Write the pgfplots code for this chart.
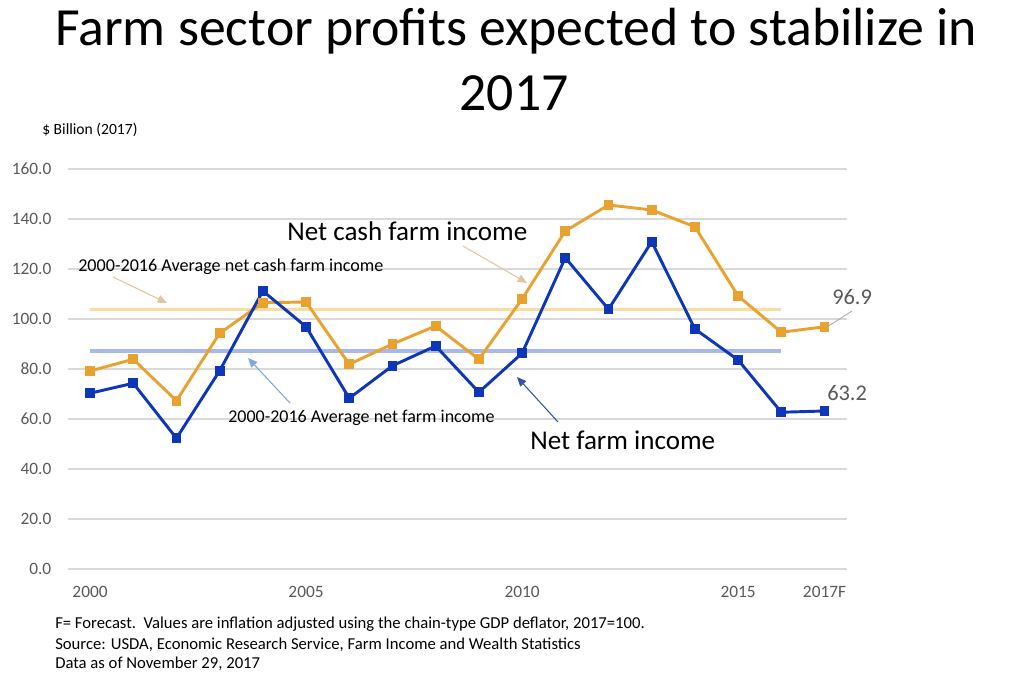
\documentclass[border=0pt]{standalone}
\usepackage{fontspec}
\setmainfont{Carlito}
\usepackage{pgfplots}
\pgfplotsset{compat=1.18}
\usetikzlibrary{arrows.meta}

\definecolor{cashc}{HTML}{E9A22F}
\definecolor{netc}{HTML}{0D36B8}
\definecolor{cashavg}{HTML}{F9DCA0}
\definecolor{netavg}{HTML}{A9B8EC}
\definecolor{gridc}{HTML}{D9D9D9}
\definecolor{tickc}{HTML}{595959}
\definecolor{tanarrow}{HTML}{DDC6A3}
\definecolor{lbarrow}{HTML}{7FA8DC}
\definecolor{dbarrow}{HTML}{3352A8}

\begin{document}
% 1 unit = 1 pixel of the 1024x678 picture, origin bottom left
\begin{tikzpicture}[x=0.75pt,y=0.75pt]
\useasboundingbox (0,0) rectangle (1024,678);

\begin{axis}[
    at={(51pt,81.75pt)}, anchor=south west,
    scale only axis,
    width=584.25pt, height=300pt,
    xmin=1999.49, xmax=2017.52,
    ymin=0, ymax=160,
    clip=false,
    axis line style={draw=none},
    tick style={draw=none},
    ymajorgrids,
    grid style={gridc, line width=0.9pt},
    ytick={0,20,40,60,80,100,120,140,160},
    yticklabels={0.0,20.0,40.0,60.0,80.0,100.0,120.0,140.0,160.0},
    xtick={2000,2005,2010,2015,2017},
    xticklabels={2000,2005,2010,2015,2017F},
    ticklabel style={font=\fontsize{13}{15}\selectfont, text=tickc},
    xticklabel style={yshift=-9.5pt},
    yticklabel style={xshift=-9pt},
]
% 2000-2016 averages
\addplot[cashavg, line width=2.5pt, forget plot] coordinates {(2000,103.9) (2016,103.9)};
\addplot[netavg, line width=2.5pt, forget plot] coordinates {(2000,87.2) (2016,87.2)};
% net cash farm income
\addplot[cashc, line width=2.2pt, mark=square*, mark size=2.6pt] coordinates {
(2000,79.2) (2001,83.9) (2002,67.3) (2003,94.3) (2004,106.5) (2005,106.8)
(2006,81.9) (2007,90.0) (2008,97.2) (2009,83.9) (2010,108.0) (2011,135.2)
(2012,145.6) (2013,143.6) (2014,136.9) (2015,109.2) (2016,94.7) (2017,96.9)};
% net farm income
\addplot[netc, line width=2.2pt, mark=square*, mark size=2.6pt] coordinates {
(2000,70.3) (2001,74.3) (2002,52.3) (2003,79.3) (2004,111.2) (2005,96.9)
(2006,68.3) (2007,81.3) (2008,89.2) (2009,70.7) (2010,86.3) (2011,124.5)
(2012,103.9) (2013,130.9) (2014,96.0) (2015,83.6) (2016,62.7) (2017,63.2)};
\end{axis}

% title
\node[anchor=base, font=\fontsize{40.3}{42}\selectfont] at (516,632) {Farm sector profits expected to stabilize in};
\node[anchor=base, font=\fontsize{40.3}{42}\selectfont] at (514,567) {2017};
\node[anchor=west, font=\fontsize{11.7}{13}\selectfont, inner sep=0pt] at (42,548) {\$ Billion (2017)};

% annotations
\node[anchor=west, inner sep=0pt, font=\fontsize{20.3}{22}\selectfont] at (287,447) {Net cash farm income};
\node[anchor=west, inner sep=0pt, font=\fontsize{13.6}{15}\selectfont] at (78,411) {2000-2016 Average net cash farm income};
\node[anchor=west, inner sep=0pt, font=\fontsize{13.5}{15}\selectfont] at (228,260) {2000-2016 Average net farm income};
\node[anchor=west, inner sep=0pt, font=\fontsize{20.3}{22}\selectfont] at (530,238) {Net farm income};
\node[anchor=west, inner sep=0pt, text=tickc, font=\fontsize{16.8}{18}\selectfont] at (832,381) {96.9};
\node[anchor=west, inner sep=0pt, text=tickc, font=\fontsize{16.8}{18}\selectfont] at (827,285) {63.2};

\draw[tanarrow, line width=0.8pt, -{Triangle[length=7pt,width=6pt]}] (113,401) -- (167,375);
\draw[tanarrow, line width=0.8pt, -{Triangle[length=7pt,width=6pt]}] (463,432) -- (527,395);
\draw[lbarrow, line width=0.8pt, -{Triangle[length=7pt,width=6pt]}] (290,275) -- (248,320);
\draw[dbarrow, line width=0.8pt, -{Triangle[length=7pt,width=6pt]}] (558,256) -- (517,301);
\draw[gray!70, line width=0.6pt] (827,351) -- (852,367);

% footnote
\node[anchor=west, inner sep=0pt, font=\fontsize{12.5}{14}\selectfont] at (55,54) {F= Forecast.\ \ Values are inflation adjusted using the chain-type GDP deflator, 2017=100.};
\node[anchor=west, inner sep=0pt, font=\fontsize{12.5}{14}\selectfont] at (55,33) {Source: USDA, Economic Research Service, Farm Income and Wealth Statistics};
\node[anchor=west, inner sep=0pt, font=\fontsize{12.5}{14}\selectfont] at (55,14) {Data as of November 29, 2017};
\end{tikzpicture}
\end{document}
